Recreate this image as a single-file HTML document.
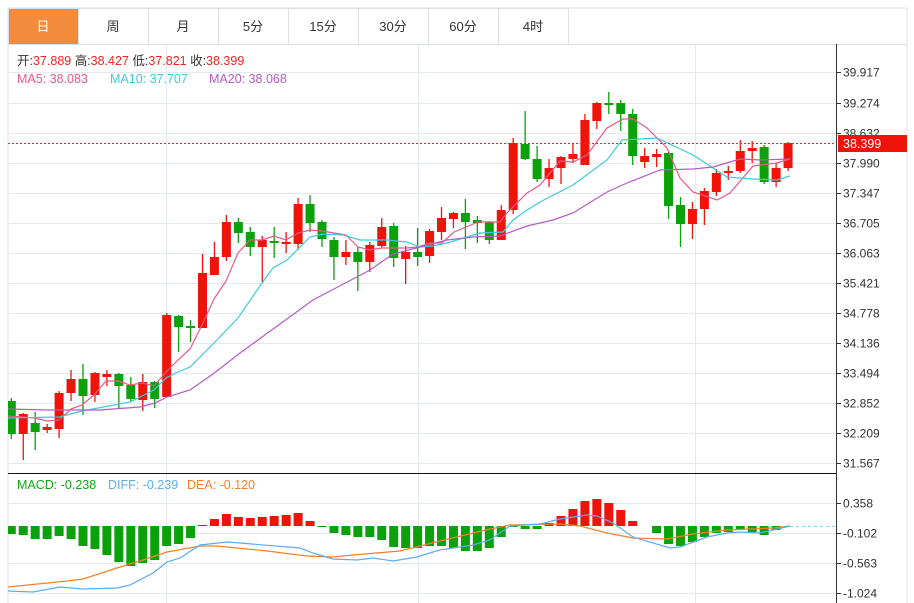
<!DOCTYPE html>
<html><head><meta charset="utf-8"><style>
body{margin:0;background:#fff;width:914px;height:603px;overflow:hidden;font-family:"Liberation Sans","Noto Sans CJK SC",sans-serif}
svg{position:absolute;left:0;top:0}
</style></head><body>
<svg id="s" width="914" height="603" xmlns="http://www.w3.org/2000/svg" font-family="Liberation Sans, Noto Sans CJK SC, sans-serif">
<rect x="8" y="8" width="899" height="600" fill="#fff" stroke="#dfe3e8"/>
<g id="grid" stroke="#e3e9ef" stroke-width="1"></g>
<g id="tabs"></g>
<g font-size="12.5">
<text x="17" y="65" fill="#333">开:<tspan fill="#f0261c">37.889</tspan>  高:<tspan fill="#f0261c">38.427</tspan>  低:<tspan fill="#f0261c">37.821</tspan>  收:<tspan fill="#f0261c">38.399</tspan></text>
<text x="17" y="83" fill="#e8588b">MA5: 38.083</text>
<text x="110" y="83" fill="#3fc9dc">MA10: 37.707</text>
<text x="209" y="83" fill="#b45cc6">MA20: 38.068</text>
<text x="17" y="489" fill="#11a811">MACD: -0.238</text>
<text x="108" y="489" fill="#5aaef0">DIFF: -0.239</text>
<text x="187" y="489" fill="#f4802e">DEA: -0.120</text>
</g>
<g id="c"></g>
<line x1="8" y1="473.5" x2="836" y2="473.5" stroke="#111"/>
<line x1="836.5" y1="44" x2="836.5" y2="603" stroke="#333"/>
<g id="ax" font-size="12" fill="#333"></g>
<line x1="8" y1="143.5" x2="836" y2="143.5" stroke="#f0261c" stroke-dasharray="2,2"/>
<rect x="838" y="135" width="69" height="17" fill="#f0130a"/>
<text x="843" y="148" font-size="12.5" fill="#fff">38.399</text>
</svg>
<script>
const S=document.getElementById('s'),NS='http://www.w3.org/2000/svg';
function el(p,t,a){const e=document.createElementNS(NS,t);for(const k in a)e.setAttribute(k,a[k]);p.appendChild(e);return e;}
const G=document.getElementById('grid');
const py=[72,103,133,163,193,223,253,283,313,343,373,403,433,463];
const pl=['39.917','39.274','38.632','37.990','37.347','36.705','36.063','35.421','34.778','34.136','33.494','32.852','32.209','31.567'];
const my=[503,533,563,593],ml=['0.358','-0.102','-0.563','-1.024'];
py.concat(my).forEach(y=>el(G,'line',{x1:8,y1:y+.5,x2:836,y2:y+.5}));
[166,418,695].forEach(x=>el(G,'line',{x1:x+.5,y1:44,x2:x+.5,y2:603}));
const A=document.getElementById('ax');
py.forEach((y,i)=>{el(A,'line',{x1:836,y1:y+.5,x2:841,y2:y+.5,stroke:'#333'});const t=el(A,'text',{x:843,y:y+4.5});t.textContent=pl[i];});
my.forEach((y,i)=>{el(A,'line',{x1:836,y1:y+.5,x2:841,y2:y+.5,stroke:'#333'});const t=el(A,'text',{x:843,y:y+4.5});t.textContent=ml[i];});
const T=document.getElementById('tabs');
['日','周','月','5分','15分','30分','60分','4时'].forEach((s,i)=>{const x=8+70*i;
el(T,'rect',{x:x+.5,y:8.5,width:70,height:36,fill:i==0?'#f28b3c':'#fff',stroke:'#dcdfe3'});
const t=el(T,'text',{x:x+35,y:31,'text-anchor':'middle','font-size':13,fill:i==0?'#fff':'#333'});t.textContent=s;});
el(T,'line',{x1:8,y1:44.5,x2:907,y2:44.5,stroke:'#dcdfe3'});
// candles: [bodyTop,bodyBot,hi,lo,up]
const K=[[401,434,398,439,0],[414,434,413,460,1],[423,432,412,450,0],[427,430,424,433,1],[393,429,391,438,1],[379,393,370,401,1],[379,396,364,415,0],[373,395,372,402,1],[374,377,370,386,1],[374,386,373,408,0],[385,399,377,401,0],[382,400,374,411,1],[382,399,381,408,0],[315,397,313,397,1],[316,327,315,352,0],[326,328,320,342,0],[273,328,254,328,1],[257,275,242,275,1],[222,257,215,261,1],[222,233,218,243,0],[232,247,227,256,0],[240,247,236,282,1],[241,243,227,258,0],[242,244,232,253,1],[204,244,198,250,1],[204,223,195,232,0],[222,239,220,247,0],[240,257,237,280,0],[252,257,240,265,1],[252,262,247,291,0],[245,262,242,272,1],[227,246,218,248,1],[226,258,223,267,0],[252,259,246,284,1],[252,257,228,266,0],[231,256,229,263,1],[218,232,207,240,1],[213,219,212,228,1],[213,222,199,249,0],[220,223,216,243,0],[222,240,221,244,0],[210,240,205,240,1],[143,210,138,214,1],[144,159,111,160,0],[159,179,146,182,0],[168,179,159,187,1],[157,168,156,184,1],[154,159,143,163,1],[120,165,114,165,1],[103,121,102,129,1],[103,105,92,114,0],[103,114,100,131,0],[114,156,109,165,0],[156,162,148,168,1],[154,157,149,167,1],[153,206,152,219,0],[205,224,197,247,0],[209,224,202,239,1],[191,209,188,225,1],[173,192,169,196,1],[171,173,166,180,1],[151,171,140,173,1],[148,151,141,163,1],[147,182,145,184,0],[168,182,163,187,1],[143,168,142,171,1]];
const C=document.getElementById('c');
const cx=i=>11.3+11.95*i;
const RED='#f0130a',GRN='#0aa10a';
K.forEach((k,i)=>{const x=cx(i),c=k[4]?RED:GRN;
el(C,'line',{x1:x,y1:k[2],x2:x,y2:k[3],stroke:c,'stroke-width':1.3});
el(C,'rect',{x:Math.max(8,x-4.5),y:k[0],width:x-4.5<8?x+4.5-8:9,height:Math.max(2,k[1]-k[0]),fill:c});});
// MACD hist bottoms/tops
const H=[534,535,539,539,536,539,546,549,555,562,566,563,560,546,544,538,525,519,514,517,518,517,516,515,513,521,527,533,535,537,537,540,547,548,548,546,546,548,551,551,548,537,527,529,529,523,516,509,501,499,503,510,521,526,533,544,546,542,537,533,532,530,532,535,530,526];
const Z=526;
H.forEach((v,i)=>{const x=cx(i);if(Math.abs(v-Z)<1)return;const up=v<Z;
el(C,'rect',{x:Math.max(8,x-4.5),y:Math.min(v,Z),width:x-4.5<8?x+4.5-8:9,height:Math.abs(v-Z),fill:up?RED:GRN});});
el(C,'line',{x1:790,y1:Z+.5,x2:836,y2:Z+.5,stroke:'#8fd0f0','stroke-dasharray':'3,3'});
function pline(pts,c){el(C,'polyline',{points:pts.map(p=>p.join(',')).join(' '),fill:'none',stroke:c,'stroke-width':1.2});}
pline([[8,416],[35,418],[47,421],[59,420],[71,409],[82,405],[94,395],[106,381],[118,381],[130,385],[142,383],[154,386],[166,372],[178,360],[190,349],[202,325],[214,299],[226,281],[238,253],[250,240],[262,240],[274,236],[286,240],[298,233],[310,230],[322,231],[334,233],[346,235],[358,247],[370,250],[382,248],[394,248],[406,248],[418,247],[430,243],[442,243],[454,232],[466,227],[478,222],[490,222],[500,222],[507,213],[527,193],[540,185],[560,161],[573,162],[587,155],[607,128],[623,119],[633,119],[647,128],[667,148],[680,178],[693,192],[717,200],[730,193],[753,166],[777,163],[790,159]],'#e8588b');
pline([[8,418],[59,417],[82,411],[130,402],[154,390],[166,378],[178,372],[190,367],[202,355],[214,343],[238,318],[262,283],[273,268],[287,260],[310,237],[323,234],[343,235],[360,240],[387,240],[407,242],[420,247],[433,246],[447,243],[480,233],[503,232],[513,220],[527,210],[540,202],[573,185],[607,160],[622,140],[657,138],[693,155],[727,177],[753,179],[777,180],[790,176]],'#3fc9dc');
pline([[8,409],[47,410],[100,410],[140,407],[155,403],[167,397],[190,390],[213,374],[240,353],[280,324],[313,300],[370,270],[393,254],[420,247],[447,240],[473,237],[500,236],[527,226],[553,220],[573,213],[607,192],[627,183],[660,170],[693,169],[713,167],[740,159],[760,160],[790,159]],'#b45cc6');
pline([[8,587],[67,581],[83,579],[117,568],[143,560],[167,552],[200,546],[217,546],[267,551],[307,556],[333,557],[353,555],[400,551],[440,541],[490,529],[510,525],[560,524],[580,526],[607,533],[633,538],[667,539],[693,534],[727,530],[773,528],[790,526]],'#f4802e');
pline([[8,591],[33,592],[60,587],[83,589],[117,588],[130,585],[153,573],[167,562],[180,558],[200,545],[227,542],[240,543],[300,548],[313,553],[333,559],[357,560],[373,558],[393,561],[417,557],[433,552],[440,550],[473,545],[490,540],[510,526],[540,524],[560,519],[587,515],[597,516],[613,523],[633,537],[670,548],[680,547],[707,537],[727,533],[740,532],[760,533],[773,530],[790,526]],'#5aaef0');
</script>
</body></html>
